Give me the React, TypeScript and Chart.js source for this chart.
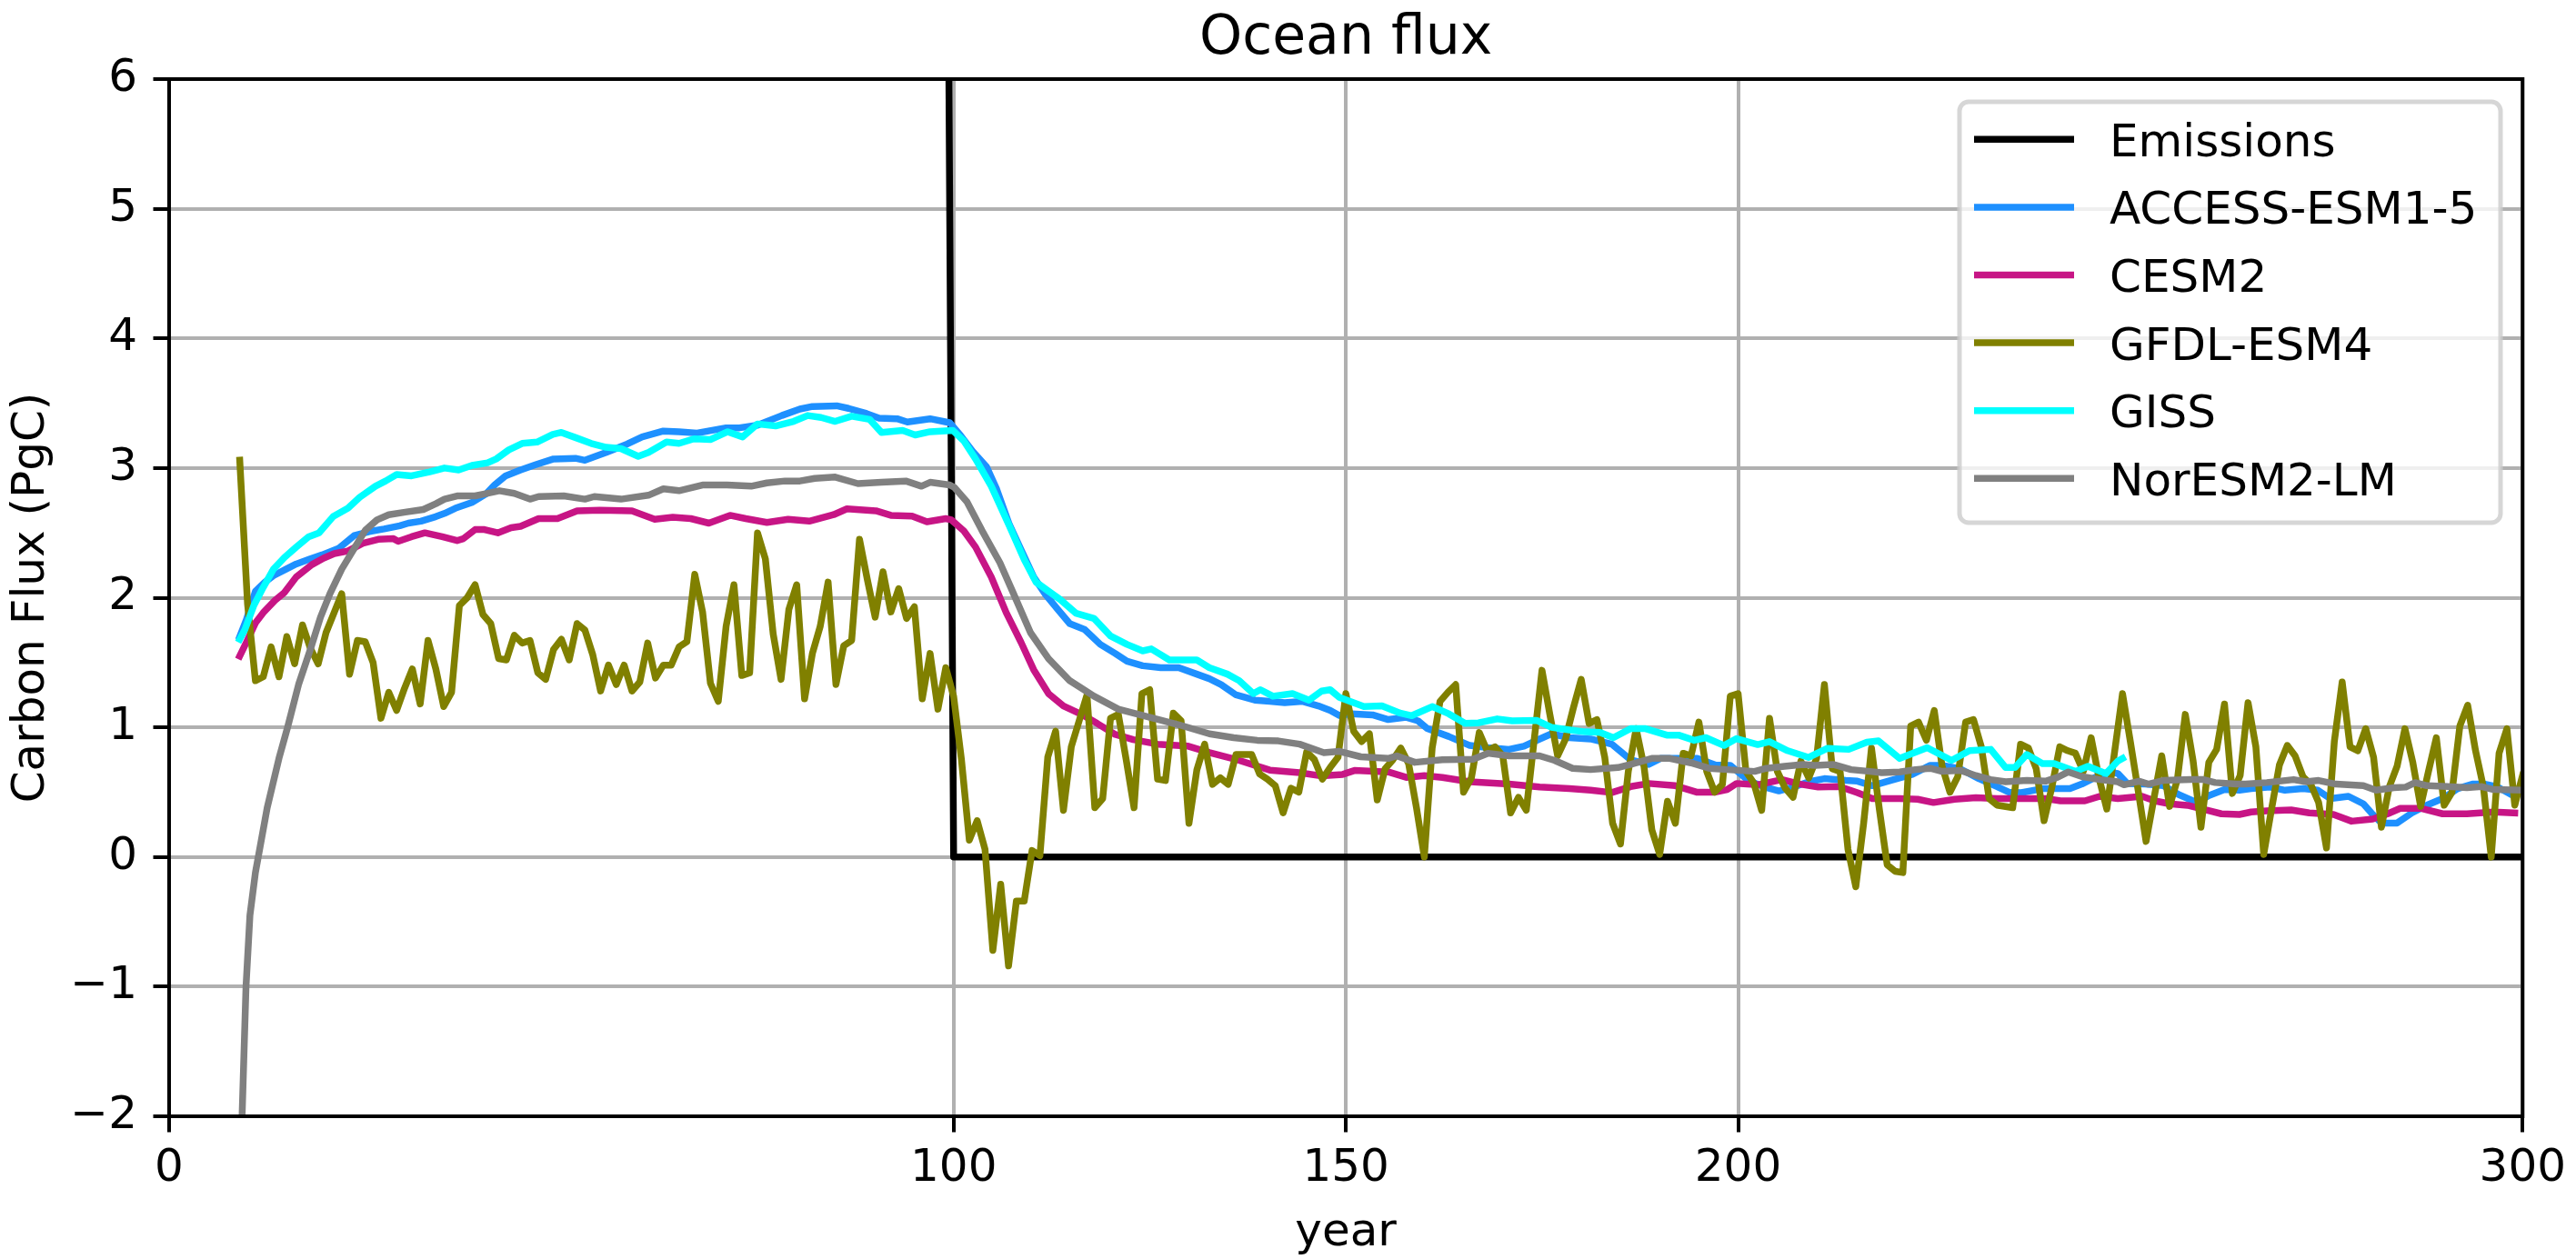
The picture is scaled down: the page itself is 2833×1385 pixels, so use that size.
import { useEffect, useRef } from "react";
import { Chart, registerables } from "chart.js";

Chart.register(...registerables);

const FONT = "'DejaVu Sans', 'Liberation Sans', sans-serif";

const titleText = "Ocean flux";
const xTitle = "year";
const yTitle = "Carbon Flux (PgC)";
const xTickValues = [0, 100, 150, 200, 300];
const yTickMin = -2;
const yTickMax = 6;

const seriesLabels = ["Emissions", "ACCESS-ESM1-5", "CESM2", "GFDL-ESM4", "GISS", "NorESM2-LM"];
const seriesColors = ["#000000", "#1E90FF", "#C71585", "#808000", "#00FFFF", "#808080"];

const emissionsYears = [0, 99, 100, 300];
const emissionsValues = [10, 10, 0, 0];

const accessYears = [
  9, 9.85, 11, 12.2, 13.3, 14.9, 16.2, 18, 19.5, 21.6, 23.6, 25.5, 27.4, 29.4, 30.5, 32.1, 34, 35.1, 36.5, 38.6,
  40.4, 41.5, 42.9, 44.8, 46.7, 49, 51.8, 53, 55.7, 58.4, 60.3, 63, 65, 67.3, 71, 72.7, 75, 78.1, 80.4, 82,
  85.1, 86.6, 88.9, 90.5, 92.8, 94.1, 97, 99.5, 100.9, 102.4, 104.2, 105.5, 107.1, 108.6, 110.2, 111.7, 113.2, 114.8, 116.7, 118.7,
  120.6, 122.1, 124.1, 126.4, 128.7, 131, 132.6, 134.1, 136, 138.4, 140.3, 142.2, 144.5, 146.5, 148, 149.2, 150.7, 153.4, 155.4, 157.7,
  159.2, 160.4, 163.1, 165.8, 168.1, 170.8, 172.7, 174.7, 176.2, 178.5, 181.2, 183.9, 186.3, 188.6, 190.1, 192.4, 194.8, 197.1, 199, 201.3,
  203.2, 205.2, 207.1, 209, 211, 213.7, 215.2, 217.1, 219.1, 222.2, 224.5, 226, 228.3, 230.7, 233, 234.5, 236.1, 238.8, 242.3, 243.8,
  246.1, 247.7, 248.4, 249.6, 251.9, 254.2, 256.2, 258.5, 260, 262, 263.9, 265.4, 267.8, 269.7, 272, 273.9, 275.5, 277.8, 279.7, 280.9,
  282, 284, 285.9, 287.8, 289.8, 291.7, 293.6, 295.2, 296.7, 298.3,
];
const accessValues = [
  1.7, 1.83, 2.05, 2.12, 2.17, 2.22, 2.26, 2.3, 2.33, 2.38, 2.48, 2.51, 2.53, 2.555, 2.575, 2.59, 2.625, 2.65, 2.69, 2.735,
  2.8, 2.87, 2.94, 2.985, 3.025, 3.07, 3.075, 3.06, 3.12, 3.185, 3.24, 3.285, 3.28, 3.27, 3.31, 3.31, 3.33, 3.405, 3.455, 3.475,
  3.48, 3.46, 3.42, 3.385, 3.38, 3.355, 3.38, 3.35, 3.25, 3.13, 3.01, 2.835, 2.565, 2.37, 2.16, 2.025, 1.915, 1.8, 1.755, 1.64,
  1.57, 1.51, 1.475, 1.46, 1.46, 1.41, 1.375, 1.33, 1.25, 1.21, 1.2, 1.19, 1.2, 1.165, 1.13, 1.09, 1.105, 1.096, 1.06, 1.077,
  1.05, 0.99, 0.93, 0.86, 0.843, 0.83, 0.855, 0.91, 0.95, 0.92, 0.91, 0.87, 0.75, 0.714, 0.76, 0.76, 0.76, 0.71, 0.707, 0.59,
  0.543, 0.51, 0.54, 0.58, 0.604, 0.59, 0.585, 0.55, 0.585, 0.637, 0.707, 0.707, 0.68, 0.604, 0.543, 0.5, 0.496, 0.527, 0.527, 0.562,
  0.632, 0.651, 0.644, 0.567, 0.562, 0.55, 0.48, 0.42, 0.473, 0.52, 0.515, 0.527, 0.54, 0.515, 0.527, 0.515, 0.45, 0.468, 0.41, 0.328,
  0.262, 0.262, 0.34, 0.4, 0.45, 0.527, 0.562, 0.562, 0.543, 0.49,
];

const cesmYears = [
  9, 9.85, 11, 12, 13.5, 14.7, 16.2, 18.2, 19.7, 21.05, 22.8, 24.7, 26.65, 28.6, 29.2, 30.9, 32.6, 34.8, 36.7, 37.5,
  39, 40.2, 41.9, 43.6, 44.8, 47.1, 49.5, 52, 54.9, 59, 61.9, 64.2, 66.5, 68.8, 71.5, 73.5, 76.2, 78.9, 81.6, 84.7,
  86.4, 90.1, 92, 94.7, 96.6, 99, 99.7, 101.3, 102.8, 104.8, 106.7, 108.6, 110.2, 112.1, 114, 116.3, 118.3, 120.6, 122.9, 126,
  129.9, 132.6, 136.4, 140.3, 144.1, 146.9, 149.6, 151.1, 155.4, 157.7, 160, 162.3, 165.8, 170.8, 174.7, 178.5, 181.2, 183.9, 186.3, 188.6,
  192, 194.7, 197.1, 198.6, 199.8, 202.5, 205.6, 207.9, 210.2, 212.9, 215.2, 217.1, 220.6, 222.9, 224.9, 227.6, 230.3, 233, 239.2, 241.1,
  244.2, 246.1, 248.4, 251.5, 253.1, 255, 257.3, 259.6, 261.6, 263.9, 265.4, 267.4, 270.5, 272.8, 275.9, 278.2, 280.9, 282.8, 284.4, 287.1,
  289.8, 292.9, 296.3, 299,
];
const cesmValues = [
  1.55, 1.655, 1.805, 1.885, 1.98, 2.04, 2.16, 2.255, 2.305, 2.34, 2.36, 2.42, 2.45, 2.455, 2.435, 2.47, 2.5, 2.47, 2.44, 2.455,
  2.525, 2.525, 2.5, 2.54, 2.55, 2.61, 2.61, 2.67, 2.675, 2.67, 2.605, 2.62, 2.61, 2.575, 2.635, 2.61, 2.58, 2.605, 2.59, 2.64,
  2.685, 2.67, 2.635, 2.63, 2.585, 2.61, 2.6, 2.515, 2.39, 2.16, 1.885, 1.655, 1.445, 1.26, 1.165, 1.1, 1.03, 0.945, 0.905, 0.87,
  0.855, 0.805, 0.745, 0.67, 0.65, 0.625, 0.637, 0.667, 0.656, 0.614, 0.628, 0.614, 0.58, 0.562, 0.54, 0.527, 0.515, 0.497, 0.543, 0.567,
  0.55, 0.5, 0.5, 0.52, 0.567, 0.557, 0.597, 0.562, 0.54, 0.543, 0.496, 0.45, 0.45, 0.445, 0.42, 0.445, 0.457, 0.45, 0.45, 0.433,
  0.433, 0.468, 0.45, 0.468, 0.433, 0.41, 0.398, 0.363, 0.333, 0.328, 0.347, 0.356, 0.363, 0.34, 0.328, 0.276, 0.293, 0.333, 0.375, 0.375,
  0.333, 0.333, 0.347, 0.34,
];

const gfdlYears = [
  9, 10, 11, 12, 13, 14, 15, 16, 17, 18, 19, 20, 21, 22, 23, 24, 25, 26, 27, 28,
  29, 30, 31, 32, 33, 34, 35, 36, 37, 38, 39, 40, 41, 42, 43, 44, 45, 46, 47, 48,
  49, 50, 51, 52, 53, 54, 55, 56, 57, 58, 59, 60, 61, 62, 63, 64, 65, 66, 67, 68,
  69, 70, 71, 72, 73, 74, 75, 76, 77, 78, 79, 80, 81, 82, 83, 84, 85, 86, 87, 88,
  89, 90, 91, 92, 93, 94, 95, 96, 97, 98, 99, 100, 101, 102, 103, 104, 105, 106, 107, 108,
  109, 110, 111, 112, 113, 114, 115, 116, 117, 118, 119, 120, 121, 122, 123, 124, 125, 126, 127, 128,
  129, 130, 131, 132, 133, 134, 135, 136, 137, 138, 139, 140, 141, 142, 143, 144, 145, 146, 147, 148,
  149, 150, 151, 152, 153, 154, 155, 156, 157, 158, 159, 160, 161, 162, 163, 164, 165, 166, 167, 168,
  169, 170, 171, 172, 173, 174, 175, 176, 177, 178, 179, 180, 181, 182, 183, 184, 185, 186, 187, 188,
  189, 190, 191, 192, 193, 194, 195, 196, 197, 198, 199, 200, 201, 202, 203, 204, 205, 206, 207, 208,
  209, 210, 211, 212, 213, 214, 215, 216, 217, 218, 219, 220, 221, 222, 223, 224, 225, 226, 227, 228,
  229, 230, 231, 232, 233, 235, 236, 237, 238, 239, 240, 241, 242, 243, 244, 245, 246, 247, 249, 250,
  251, 252, 253, 254, 255, 256, 257, 258, 259, 260, 261, 262, 263, 264, 265, 266, 267, 268, 269, 270,
  271, 272, 273, 274, 275, 276, 277, 278, 279, 280, 281, 282, 283, 284, 285, 286, 287, 288, 289, 290,
  291, 292, 293, 294, 295, 296, 297, 298, 299, 300,
];
const gfdlValues = [
  3.06, 1.95, 1.36, 1.39, 1.62, 1.39, 1.7, 1.49, 1.79, 1.61, 1.49, 1.73, 1.88, 2.03, 1.41, 1.67, 1.66, 1.5, 1.07, 1.27,
  1.13, 1.3, 1.45, 1.18, 1.67, 1.45, 1.16, 1.27, 1.94, 2.0, 2.1, 1.87, 1.8, 1.53, 1.52, 1.71, 1.65, 1.67, 1.42, 1.37,
  1.6, 1.68, 1.52, 1.8, 1.75, 1.56, 1.28, 1.48, 1.33, 1.48, 1.28, 1.35, 1.65, 1.38, 1.48, 1.48, 1.62, 1.66, 2.18, 1.89,
  1.34, 1.2, 1.78, 2.1, 1.4, 1.42, 2.5, 2.3, 1.72, 1.37, 1.91, 2.1, 1.22, 1.57, 1.78, 2.12, 1.33, 1.63, 1.67, 2.45,
  2.14, 1.85, 2.2, 1.89, 2.07, 1.84, 1.93, 1.22, 1.57, 1.14, 1.46, 1.24, 0.75, 0.13, 0.28, 0.06, -0.72, -0.21, -0.84, -0.34,
  -0.34, 0.05, 0.01, 0.77, 0.97, 0.36, 0.85, 1.05, 1.25, 0.38, 0.45, 1.07, 1.1, 0.75, 0.38, 1.26, 1.29, 0.6, 0.59, 1.11,
  1.05, 0.26, 0.67, 0.87, 0.56, 0.61, 0.56, 0.79, 0.79, 0.79, 0.64, 0.6, 0.55, 0.34, 0.53, 0.5, 0.81, 0.75, 0.6, 0.69,
  0.77, 1.26, 0.97, 0.89, 0.95, 0.44, 0.68, 0.75, 0.84, 0.72, 0.38, 0.0, 0.84, 1.2, 1.27, 1.33, 0.5, 0.61, 0.96, 0.82,
  0.85, 0.78, 0.34, 0.46, 0.36, 0.9, 1.44, 1.1, 0.78, 0.91, 1.15, 1.37, 1.03, 1.06, 0.77, 0.26, 0.1, 0.66, 0.99, 0.7,
  0.21, 0.02, 0.43, 0.26, 0.8, 0.78, 1.04, 0.66, 0.5, 0.56, 1.24, 1.26, 0.66, 0.57, 0.36, 1.07, 0.66, 0.53, 0.46, 0.74,
  0.61, 0.76, 1.33, 0.68, 0.66, 0.06, -0.23, 0.26, 0.84, 0.37, -0.06, -0.11, -0.12, 1.01, 1.04, 0.9, 1.13, 0.7, 0.5, 0.62,
  1.04, 1.06, 0.85, 0.45, 0.4, 0.38, 0.87, 0.84, 0.68, 0.28, 0.54, 0.85, 0.82, 0.8, 0.66, 0.92, 0.61, 0.37, 1.26, 0.89,
  0.51, 0.12, 0.45, 0.78, 0.39, 0.6, 1.1, 0.74, 0.23, 0.73, 0.83, 1.18, 0.49, 0.63, 1.19, 0.85, 0.02, 0.37, 0.71, 0.86,
  0.78, 0.62, 0.56, 0.42, 0.07, 0.89, 1.35, 0.85, 0.82, 0.99, 0.77, 0.23, 0.54, 0.7, 0.99, 0.73, 0.39, 0.66, 0.92, 0.4,
  0.5, 1.01, 1.17, 0.82, 0.54, 0.0, 0.8, 0.99, 0.4, 0.63,
];

const gissYears = [
  9, 9.66, 10.8, 12, 13.3, 14.7, 16.2, 17.8, 19.1, 20.9, 22.8, 24.3, 26.3, 27.6, 29, 30.9, 33.2, 35.1, 36.9, 38.6,
  40.6, 41.7, 43.3, 45, 46.9, 48.9, 50, 51.8, 53.8, 55.7, 57.6, 59.8, 61.1, 63.4, 65, 66.9, 69, 71.2, 73.1, 75,
  77.3, 79.6, 81.4, 83.1, 84.9, 87, 89.3, 90.8, 93.5, 95.1, 97, 99.9, 101.3, 102.8, 104.8, 107.1, 109, 110.5, 112.1, 113.6,
  115.6, 117.9, 120, 122.1, 124.1, 125.2, 127.5, 131, 132.6, 134.9, 136.4, 138.2, 139.1, 140.7, 143.2, 145.3, 146.9, 148, 149.2, 152.3,
  154.6, 156.9, 158.4, 161, 163.1, 165.2, 166.9, 169.3, 171.2, 174.3, 176.2, 178.5, 180.5, 182.4, 184.1, 186.3, 188.2, 190.9, 192.4, 194.4,
  195.9, 198.2, 199.8, 202.5, 204, 206.3, 209, 211.4, 214.1, 216.4, 217.9, 220.6, 224.1, 227.2, 229.5, 232.2, 234.1, 235.3, 236.8, 238.8,
  240.3, 243, 244.6, 246.9, 248.4, 249,
];
const gissValues = [
  1.68, 1.755, 1.94, 2.08, 2.22, 2.31, 2.39, 2.47, 2.5, 2.625, 2.69, 2.775, 2.86, 2.9, 2.95, 2.94, 2.97, 3.0, 2.985, 3.02,
  3.04, 3.07, 3.14, 3.19, 3.2, 3.26, 3.275, 3.235, 3.19, 3.16, 3.15, 3.09, 3.12, 3.2, 3.19, 3.225, 3.22, 3.28, 3.24, 3.34,
  3.325, 3.36, 3.405, 3.39, 3.36, 3.4, 3.375, 3.275, 3.29, 3.255, 3.28, 3.29, 3.21, 3.07, 2.86, 2.555, 2.295, 2.12, 2.05, 1.985,
  1.88, 1.84, 1.705, 1.64, 1.59, 1.605, 1.52, 1.52, 1.46, 1.41, 1.36, 1.26, 1.29, 1.24, 1.26, 1.21, 1.28, 1.29, 1.23, 1.16,
  1.166, 1.11, 1.09, 1.16, 1.105, 1.03, 1.035, 1.065, 1.05, 1.054, 1.0, 0.98, 0.965, 0.96, 0.92, 0.99, 0.99, 0.94, 0.94, 0.9,
  0.92, 0.86, 0.913, 0.867, 0.89, 0.82, 0.768, 0.838, 0.83, 0.885, 0.895, 0.76, 0.843, 0.745, 0.82, 0.83, 0.69, 0.69, 0.79, 0.72,
  0.72, 0.66, 0.7, 0.644, 0.74, 0.76,
];

const norYears = [
  9, 9.3, 9.8, 10.3, 11, 11.6, 12.5, 14, 15.1, 16.5, 18, 19.3, 20.5, 22, 23.6, 25, 26.5, 28, 30.1, 32.4,
  34, 35.1, 36.7, 39, 40.2, 42.1, 44, 46, 47.1, 50.3, 53, 54.2, 57.6, 61.1, 63, 65, 68.1, 71.1, 74.2, 76.2,
  78.5, 80.4, 82.3, 84.9, 87.8, 90.8, 93.9, 95.9, 97, 99.5, 100.1, 101.7, 103.6, 105.9, 107.5, 109.8, 112.1, 114.8, 117.9, 121,
  124.8, 128.7, 132.6, 135.7, 138.7, 141.4, 144.1, 147.2, 149.2, 151.9, 155.4, 156.5, 158.8, 162.3, 166.2, 168.1, 170.8, 174.7, 176.6, 178.9,
  181.2, 184.7, 186.3, 189, 191.3, 194, 196.3, 198.6, 202.1, 203.6, 205.9, 208.3, 209.8, 212.1, 214.4, 216.8, 218.3, 220.6, 222.6, 224.5,
  226, 228.4, 230.3, 232.2, 234.1, 236.8, 239.2, 240.7, 242.1, 243.8, 246.1, 248.4, 249.2, 251.1, 252.3, 254.2, 257.7, 259.3, 260.8, 263.5,
  264.7, 267.4, 270.8, 272.4, 274, 276.2, 279.7, 281.3, 283.6, 285.1, 286.3, 287.8, 290.5, 292.9, 294.8, 296.3, 300,
];
const norValues = [
  -2.9, -2.0, -1.0, -0.45, -0.12, 0.08, 0.38, 0.76, 1.0, 1.33, 1.6, 1.85, 2.03, 2.22, 2.38, 2.52, 2.6, 2.64, 2.66, 2.68,
  2.725, 2.76, 2.785, 2.785, 2.8, 2.825, 2.805, 2.76, 2.78, 2.785, 2.76, 2.78, 2.76, 2.79, 2.84, 2.825, 2.87, 2.87, 2.86, 2.885,
  2.9, 2.9, 2.92, 2.93, 2.88, 2.89, 2.9, 2.86, 2.89, 2.87, 2.85, 2.74, 2.52, 2.27, 2.05, 1.73, 1.53, 1.36, 1.24, 1.14,
  1.08, 1.02, 0.95, 0.92, 0.9, 0.895, 0.87, 0.805, 0.815, 0.773, 0.76, 0.78, 0.73, 0.75, 0.754, 0.8, 0.78, 0.78, 0.745, 0.684,
  0.674, 0.69, 0.714, 0.76, 0.76, 0.726, 0.684, 0.674, 0.66, 0.684, 0.7, 0.714, 0.707, 0.714, 0.674, 0.66, 0.651, 0.656, 0.674, 0.684,
  0.66, 0.667, 0.628, 0.597, 0.58, 0.59, 0.585, 0.614, 0.656, 0.62, 0.597, 0.58, 0.557, 0.585, 0.562, 0.59, 0.597, 0.597, 0.574, 0.562,
  0.562, 0.574, 0.597, 0.58, 0.59, 0.562, 0.55, 0.515, 0.534, 0.539, 0.574, 0.55, 0.543, 0.534, 0.543, 0.52, 0.515,
];

const seriesYears = [emissionsYears, accessYears, cesmYears, gfdlYears, gissYears, norYears];
const seriesValues = [emissionsValues, accessValues, cesmValues, gfdlValues, gissValues, norValues];

const toPoints = (xs: number[], ys: number[]) => xs.map((x, i) => ({ x, y: ys[i] }));

const fmtTick = (v: number) => (v < 0 ? "\u2212" + Math.abs(v) : String(v));

const decorPlugin = {
  id: "decor",
  afterDatasetsDraw(chart: any) {
    const { ctx, chartArea: a } = chart;
    ctx.save();
    ctx.strokeStyle = "#000";
    ctx.lineWidth = 4;
    ctx.lineJoin = "miter";
    ctx.strokeRect(a.left, a.top, a.right - a.left, a.bottom - a.top);
    ctx.restore();
  },
  afterDraw(chart: any) {
    const { ctx, chartArea: a } = chart;
    const cx = (a.left + a.right) / 2;
    ctx.save();
    ctx.fillStyle = "#000";
    ctx.textAlign = "center";
    ctx.textBaseline = "alphabetic";
    ctx.font = `60px ${FONT}`;
    ctx.fillText(titleText, cx, 59);
    ctx.font = `50px ${FONT}`;
    ctx.fillText(xTitle, cx, 1370);
    ctx.save();
    ctx.translate(48, (a.top + a.bottom) / 2);
    ctx.rotate(-Math.PI / 2);
    ctx.fillText(yTitle, 0, 0);
    ctx.restore();

    // legend
    const lx = 2155, ly = 112, lw = 595, lh = 463;
    ctx.beginPath();
    if ((ctx as any).roundRect) (ctx as any).roundRect(lx, ly, lw, lh, 10);
    else ctx.rect(lx, ly, lw, lh);
    ctx.fillStyle = "rgba(255,255,255,0.8)";
    ctx.fill();
    ctx.strokeStyle = "rgba(204,204,204,0.8)";
    ctx.lineWidth = 5;
    ctx.stroke();
    ctx.font = `50px ${FONT}`;
    ctx.textAlign = "left";
    seriesLabels.forEach((label, i) => {
      const yLine = 153.3 + i * 74.6;
      ctx.beginPath();
      ctx.strokeStyle = seriesColors[i];
      ctx.lineWidth = 7.5;
      ctx.lineCap = "butt";
      ctx.moveTo(2171, yLine);
      ctx.lineTo(2281, yLine);
      ctx.stroke();
      ctx.fillStyle = "#000";
      ctx.fillText(label, 2320, 171.7 + i * 74.6);
    });
    ctx.restore();
  },
};

export default function App() {
  const canvasRef = useRef<HTMLCanvasElement | null>(null);

  useEffect(() => {
    document.body.style.margin = "0";
    const canvas = canvasRef.current;
    if (!canvas) return;
    const datasets = seriesLabels.map((label, i) => ({
      label,
      data: toPoints(seriesYears[i], seriesValues[i]),
      borderColor: seriesColors[i],
      backgroundColor: seriesColors[i],
      borderWidth: 7.5,
      borderCapStyle: "square" as const,
      borderJoinStyle: "round" as const,
      pointRadius: 0,
      tension: 0,
      fill: false,
      clip: 0,
      order: seriesLabels.length - i,
    }));
    const gridCommon = {
      color: "#b0b0b0",
      lineWidth: 4,
      tickColor: "#000",
      tickWidth: 4,
      tickLength: 17.5,
      drawTicks: true,
    };
    const chart = new Chart(canvas, {
      type: "line",
      data: { datasets },
      plugins: [decorPlugin],
      options: {
        animation: false,
        responsive: false,
        devicePixelRatio: 1,
        events: [],
        layout: { padding: { top: 87, right: 58, bottom: 0, left: 0 } },
        plugins: {
          legend: { display: false },
          title: { display: false },
          tooltip: { enabled: false },
        },
        scales: {
          x: {
            type: "linear",
            min: 0,
            max: 300,
            afterBuildTicks: (s: any) => {
              s.ticks = xTickValues.map((v) => ({ value: v }));
            },
            afterFit: (s: any) => {
              s.height = 157;
            },
            grid: gridCommon,
            border: { display: false },
            ticks: {
              color: "#000",
              font: { family: FONT, size: 50 },
              padding: 11,
              maxRotation: 0,
              autoSkip: false,
              callback: (v: any) => fmtTick(Number(v)),
            },
          },
          y: {
            type: "linear",
            min: yTickMin,
            max: yTickMax,
            afterFit: (s: any) => {
              s.width = 186;
            },
            grid: gridCommon,
            border: { display: false },
            ticks: {
              stepSize: 1,
              color: "#000",
              font: { family: FONT, size: 50 },
              padding: 17.5,
              callback: (v: any) => fmtTick(Number(v)),
            },
          },
        },
      } as any,
    });
    return () => chart.destroy();
  }, []);

  return (
    <div style={{ position: "absolute", left: 0, top: 0, width: 2833, height: 1385, background: "#fff" }}>
      <canvas ref={canvasRef} width={2833} height={1385} style={{ display: "block", width: 2833, height: 1385 }} />
    </div>
  );
}
